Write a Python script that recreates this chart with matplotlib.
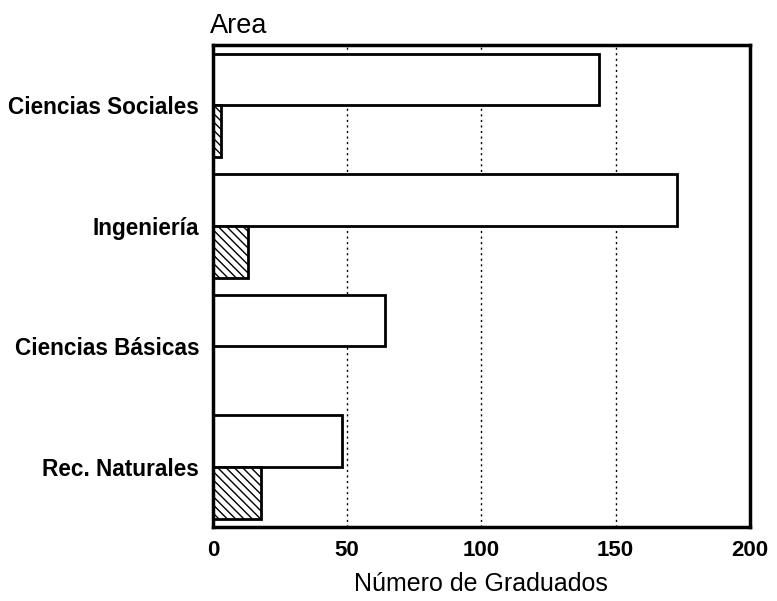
import numpy as np
import matplotlib.pyplot as plt

plt.rcParams['font.family'] = ['Liberation Sans', 'DejaVu Sans']

areas = ['Ciencias Sociales', 'Ingeniería', 'Ciencias Básicas', 'Rec. Naturales']
serie_1 = [144, 173, 64, 48]   # barras blancas
serie_2 = [3, 13, 0, 18]       # barras rayadas

fig = plt.figure(figsize=(7.77, 6.01), dpi=100)
ax = fig.add_axes([0.274, 0.123, 0.691, 0.802])

y = np.arange(len(areas))[::-1]
h = 0.43

for xg in [50, 100, 150]:
    ax.axvline(xg, color='black', linestyle=(0, (1.5, 2.5)), linewidth=1, zorder=0)

ax.barh(y + h / 2, serie_1, height=h, color='white', edgecolor='black', linewidth=2, zorder=2)
plt.rcParams['hatch.linewidth'] = 1.0
ax.barh(y - h / 2, serie_2, height=h, color='white', edgecolor='black', linewidth=2,
        hatch='\\\\\\\\', zorder=2)

ax.set_xlim(0, 200)
ax.set_ylim(-0.5, 3.5)
ax.set_xticks([0, 50, 100, 150, 200])
ax.set_yticks(y)
ax.set_yticklabels(areas)
ax.tick_params(axis='y', direction='in', length=4, width=1.5, labelsize=16.3, pad=10)
ax.tick_params(axis='x', length=0, labelsize=16, pad=9)
for lab in ax.get_yticklabels() + ax.get_xticklabels():
    lab.set_fontweight('bold')

for s in ax.spines.values():
    s.set_linewidth(2.5)

ax.set_xlabel('Número de Graduados', fontsize=18, labelpad=8)
ax.text(-0.005, 1.025, 'Area', transform=ax.transAxes, fontsize=19.5, ha='left', va='baseline')

fig.savefig('out.png', dpi=100)
